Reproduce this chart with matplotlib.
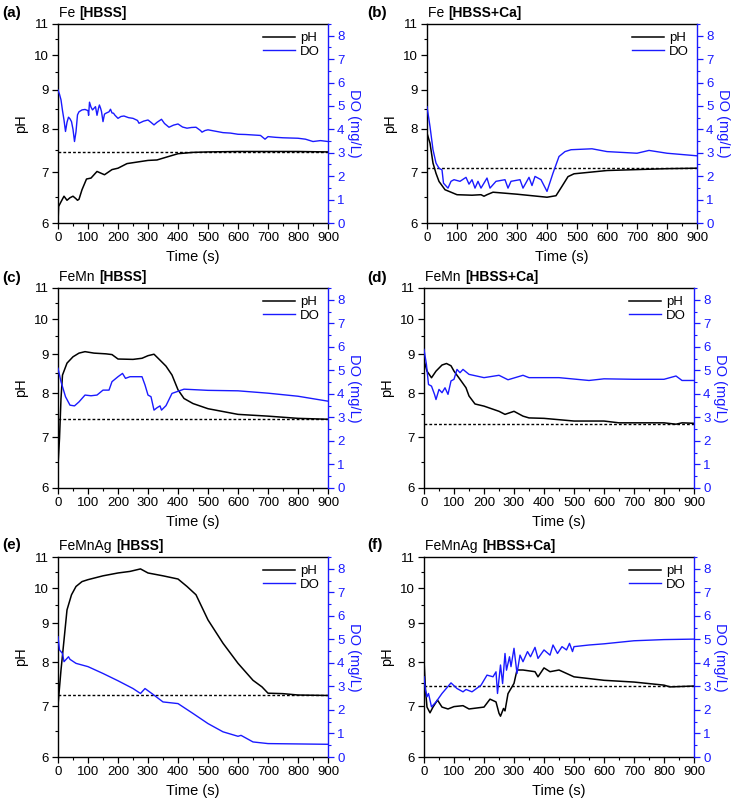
import numpy as np
import matplotlib
matplotlib.use('Agg')
import matplotlib.pyplot as plt
from matplotlib.ticker import FixedLocator, FormatStrFormatter, NullFormatter, MultipleLocator

plt.rcParams['font.family'] = ['Liberation Sans', 'DejaVu Sans']

# ---------------- data ----------------
# (a) Fe [HBSS]
t_ph_a = [0, 2, 10, 20, 30, 40, 50, 60, 65, 70, 80, 95, 110, 130, 155, 180, 200, 230, 260, 300,
          330, 360, 400, 450, 500, 600, 700, 800, 900]
ph_a = [6.0, 6.31, 6.4, 6.51, 6.43, 6.48, 6.51, 6.46, 6.43, 6.45, 6.64, 6.86, 6.88, 7.02, 6.95,
        7.06, 7.09, 7.19, 7.22, 7.26, 7.27, 7.33, 7.41, 7.44, 7.45, 7.46, 7.46, 7.46, 7.45]
t_do_a = [0, 5, 10, 15, 20, 25, 30, 35, 40, 45, 50, 55, 60, 65, 70, 80, 90, 100, 102, 105, 110,
          115, 120, 125, 130, 135, 138, 142, 145, 150, 155, 160, 170, 175, 180, 185, 190, 200, 210,
          220, 235, 250, 265, 270, 285, 300, 310, 320, 330, 345, 355, 370, 385, 400, 415, 430, 445,
          460, 475, 480, 490, 500, 525, 550, 575, 600, 625, 650, 675, 690, 700, 725, 750, 775, 800,
          825, 850, 875, 900]
do_a = [5.68, 5.5, 5.26, 4.8, 4.40, 3.91, 4.3, 4.52, 4.45, 4.33, 4.0, 3.48, 3.9, 4.62, 4.75, 4.83,
        4.85, 4.80, 4.6, 5.16, 4.95, 4.83, 4.9, 4.97, 4.6, 4.9, 5.04, 4.9, 4.76, 4.33, 4.65, 4.69,
        4.75, 4.86, 4.7, 4.69, 4.6, 4.47, 4.55, 4.57, 4.5, 4.47, 4.38, 4.26, 4.35, 4.40, 4.30, 4.19,
        4.30, 4.43, 4.25, 4.09, 4.18, 4.23, 4.10, 4.05, 4.08, 4.09, 3.95, 3.88, 3.95, 3.98, 3.92,
        3.86, 3.84, 3.79, 3.78, 3.76, 3.74, 3.58, 3.69, 3.66, 3.64, 3.63, 3.62, 3.58, 3.48, 3.52, 3.48]
ref_a = 7.45

# (b) Fe [HBSS+Ca]
t_ph_b = [0, 10, 20, 30, 40, 60, 80, 100, 150, 180, 190, 200, 220, 300, 350, 400, 430, 450, 470,
          490, 600, 700, 800, 900]
ph_b = [7.89, 7.65, 7.20, 6.98, 6.81, 6.64, 6.59, 6.54, 6.53, 6.54, 6.51, 6.54, 6.59, 6.55, 6.52,
        6.49, 6.52, 6.71, 6.91, 6.97, 7.04, 7.06, 7.08, 7.09]
t_do_b = [0, 10, 20, 30, 40, 50, 55, 70, 80, 90, 110, 130, 140, 150, 160, 170, 180, 200, 210, 230,
          260, 270, 280, 310, 320, 340, 350, 360, 380, 400, 420, 440, 460, 480, 550, 600, 700, 740,
          800, 900]
do_b = [4.97, 4.12, 3.13, 2.56, 2.34, 2.27, 1.70, 1.49, 1.78, 1.85, 1.78, 1.95, 1.66, 1.85, 1.49,
        1.78, 1.49, 1.92, 1.49, 1.78, 1.85, 1.49, 1.78, 1.85, 1.49, 1.95, 1.60, 1.99, 1.85, 1.35,
        2.13, 2.84, 3.05, 3.13, 3.17, 3.05, 2.98, 3.10, 2.98, 2.87]
ref_b = 7.09

# (c) FeMn [HBSS]
t_ph_c = [0, 5, 10, 15, 30, 50, 70, 90, 120, 160, 180, 200, 250, 280, 300, 320, 340, 360, 380,
          400, 420, 450, 500, 600, 700, 800, 900]
ph_c = [6.43, 6.97, 7.87, 8.45, 8.76, 8.93, 9.03, 9.07, 9.03, 9.01, 8.99, 8.87, 8.86, 8.89, 8.96,
        9.0, 8.84, 8.68, 8.45, 8.08, 7.87, 7.75, 7.63, 7.50, 7.46, 7.41, 7.39]
t_do_c = [0, 10, 25, 40, 55, 70, 90, 110, 130, 150, 170, 180, 200, 215, 225, 240, 280, 290, 300,
          310, 320, 330, 340, 345, 360, 380, 420, 500, 600, 700, 800, 900]
do_c = [5.09, 4.52, 3.88, 3.52, 3.49, 3.66, 3.95, 3.92, 3.95, 4.16, 4.16, 4.52, 4.73, 4.87, 4.66,
        4.73, 4.73, 4.38, 3.95, 3.88, 3.31, 3.41, 3.49, 3.31, 3.5, 4.02, 4.20, 4.15, 4.13, 4.03,
        3.9, 3.69]
ref_c = 7.39

# (d) FeMn [HBSS+Ca]
t_ph_d = [0, 10, 25, 40, 60, 75, 90, 100, 120, 140, 150, 170, 200, 250, 270, 300, 330, 350, 400,
          500, 600, 650, 800, 840, 860, 900]
ph_d = [8.84, 8.55, 8.38, 8.55, 8.71, 8.75, 8.69, 8.55, 8.34, 8.13, 7.93, 7.74, 7.69, 7.57, 7.50,
        7.57, 7.46, 7.42, 7.41, 7.35, 7.35, 7.31, 7.31, 7.28, 7.31, 7.30]
t_do_d = [0, 8, 15, 25, 35, 40, 50, 60, 70, 80, 90, 100, 110, 120, 130, 150, 200, 250, 280, 330,
          350, 450, 550, 600, 700, 800, 840, 860, 900]
do_d = [5.89, 5.26, 4.40, 4.33, 3.98, 3.76, 4.19, 4.05, 4.26, 3.98, 4.55, 4.62, 5.04, 4.90, 5.04,
        4.83, 4.69, 4.79, 4.60, 4.79, 4.69, 4.69, 4.57, 4.64, 4.62, 4.62, 4.76, 4.57, 4.57]
ref_d = 7.29

# (e) FeMnAg [HBSS]
t_ph_e = [0, 10, 20, 30, 45, 60, 80, 100, 150, 200, 240, 275, 300, 350, 400, 430, 460, 500, 550,
          600, 650, 680, 700, 750, 800, 900]
ph_e = [7.02, 7.81, 8.55, 9.37, 9.81, 10.06, 10.21, 10.27, 10.39, 10.48, 10.53, 10.61, 10.48,
        10.39, 10.29, 10.06, 9.81, 9.09, 8.47, 7.97, 7.57, 7.42, 7.28, 7.27, 7.24, 7.23]
t_do_e = [0, 5, 15, 20, 30, 35, 40, 60, 100, 150, 200, 250, 275, 290, 320, 350, 400, 450, 500,
          550, 600, 610, 650, 700, 900]
do_e = [5.11, 4.55, 4.40, 4.05, 4.19, 4.26, 4.15, 3.98, 3.84, 3.55, 3.24, 2.91, 2.70, 2.91, 2.63,
        2.34, 2.27, 1.85, 1.42, 1.07, 0.88, 0.92, 0.64, 0.57, 0.54]
ref_e = 7.24

# (f) FeMnAg [HBSS+Ca]
t_ph_f = [0, 5, 10, 20, 30, 45, 60, 80, 100, 130, 150, 200, 220, 240, 250, 255, 265, 270, 280,
          300, 310, 330, 370, 380, 400, 420, 450, 500, 550, 600, 700, 800, 820, 900]
ph_f = [8.05, 7.35, 6.98, 6.86, 6.98, 7.13, 6.98, 6.94, 6.99, 7.01, 6.94, 6.98, 7.15, 7.09, 6.85,
        6.79, 6.95, 6.9, 7.27, 7.50, 7.81, 7.81, 7.77, 7.65, 7.86, 7.77, 7.81, 7.65, 7.61, 7.57,
        7.53, 7.46, 7.42, 7.44]
t_do_f = [0, 5, 10, 15, 25, 40, 60, 90, 110, 130, 140, 160, 190, 210, 230, 240, 245, 255, 262,
          270, 275, 285, 290, 300, 310, 320, 330, 345, 355, 370, 380, 400, 420, 430, 445, 460, 475,
          485, 495, 500, 550, 600, 700, 800, 900]
do_f = [3.41, 2.84, 2.56, 2.70, 2.13, 2.34, 2.70, 3.15, 2.91, 2.77, 2.87, 2.77, 3.05, 3.48, 3.41,
        3.62, 2.70, 3.91, 3.12, 4.40, 3.69, 4.26, 3.84, 4.62, 3.55, 4.33, 4.05, 4.48, 4.26, 4.66,
        4.19, 4.55, 4.33, 4.76, 4.40, 4.69, 4.55, 4.83, 4.48, 4.69, 4.76, 4.81, 4.94, 4.99, 5.01]
ref_f = 7.44

panel_letters = ['(a)', '(b)', '(c)', '(d)', '(e)', '(f)']
alloys = ['Fe', 'Fe', 'FeMn', 'FeMn', 'FeMnAg', 'FeMnAg']
media = ['[HBSS]', '[HBSS+Ca]', '[HBSS]', '[HBSS+Ca]', '[HBSS]', '[HBSS+Ca]']

# ---------------- layout (pixels of the 733x799 reference) ----------------
W, H = 733, 799
# left, top, right, bottom of each axes box
boxes = [(58, 24, 328, 223), (427, 24, 697, 223),
         (58, 288, 328, 488), (424, 288, 694, 488),
         (58, 557, 328, 757), (424, 557, 694, 757)]
label_xy = [(2, 13), (367, 13), (2, 278), (367, 278), (2, 545), (367, 545)]

ph_data = [(t_ph_a, ph_a), (t_ph_b, ph_b), (t_ph_c, ph_c), (t_ph_d, ph_d), (t_ph_e, ph_e), (t_ph_f, ph_f)]
do_data = [(t_do_a, do_a), (t_do_b, do_b), (t_do_c, do_c), (t_do_d, do_d), (t_do_e, do_e), (t_do_f, do_f)]
refs = [ref_a, ref_b, ref_c, ref_d, ref_e, ref_f]

blue = '#1a1aff'
fig = plt.figure(figsize=(W / 100, H / 100), dpi=100)

for i in range(6):
    l, t, r, b = boxes[i]
    ax = fig.add_axes([l / W, 1 - b / H, (r - l) / W, (b - t) / H])
    ax2 = ax.twinx()

    ax.plot(ph_data[i][0], ph_data[i][1], color='black', lw=1.1, label='pH')
    ax2.plot(do_data[i][0], do_data[i][1], color=blue, lw=1.0, label='DO')
    ax.plot([0, 900], [refs[i], refs[i]], color='black', lw=1.0, ls=(0, (2.0, 1.5)))

    ax.set_xlim(0, 900)
    ax.set_yscale('log')
    ax.set_ylim(6, 11)
    ax.yaxis.set_major_locator(FixedLocator([6, 7, 8, 9, 10, 11]))
    ax.yaxis.set_major_formatter(FormatStrFormatter('%d'))
    ax.yaxis.set_minor_locator(FixedLocator([6.5, 7.5, 8.5, 9.5, 10.5]))
    ax.yaxis.set_minor_formatter(NullFormatter())
    ax.xaxis.set_major_locator(MultipleLocator(100))
    ax.xaxis.set_minor_locator(MultipleLocator(50))
    ax.tick_params(which='both', direction='out', labelsize=9.5, top=False, right=False, pad=2.5)
    ax.tick_params(which='major', length=4, width=0.9)
    ax.tick_params(which='minor', length=2.5, width=0.8)

    ax2.set_ylim(0, 8.5)
    ax2.yaxis.set_major_locator(MultipleLocator(1))
    ax2.yaxis.set_minor_locator(MultipleLocator(0.5))
    ax2.tick_params(which='both', direction='out', colors=blue, labelsize=9.5, pad=2.5)
    ax2.tick_params(which='major', length=4, width=0.9)
    ax2.tick_params(which='minor', length=2.5, width=0.8)
    ax2.spines['right'].set_color(blue)
    ax2.spines['right'].set_linewidth(1.0)
    for s in ['left', 'top', 'bottom']:
        ax.spines[s].set_linewidth(1.0)
        ax2.spines[s].set_visible(False)
    ax.spines['right'].set_visible(False)

    ax.set_xlabel('Time (s)', fontsize=10.5, labelpad=4)
    ax.set_ylabel('pH', fontsize=10.5, labelpad=4)
    ax2.set_ylabel('DO (mg/L)', fontsize=10.5, color=blue, rotation=270, labelpad=12)

    h1, l1 = ax.get_legend_handles_labels()
    h2, l2 = ax2.get_legend_handles_labels()
    ax2.legend(h1[:1] + h2, l1[:1] + l2, loc='upper right', frameon=False, fontsize=9.5,
               handlelength=2.4, handletextpad=0.4, borderaxespad=0.2, labelspacing=0.1)

    t1 = ax.annotate(alloys[i] + ' ', xy=(0, 1), xycoords='axes fraction', xytext=(1, 3),
                     textcoords='offset points', ha='left', va='bottom', fontsize=10)
    ax.annotate(media[i], xy=(1, 0), xycoords=t1, ha='left', va='bottom', fontsize=10,
                fontweight='bold')

    fig.text(label_xy[i][0] / W, 1 - label_xy[i][1] / H, panel_letters[i], fontsize=11,
             fontweight='bold', ha='left', va='center')

fig.savefig('out.png', dpi=100)
